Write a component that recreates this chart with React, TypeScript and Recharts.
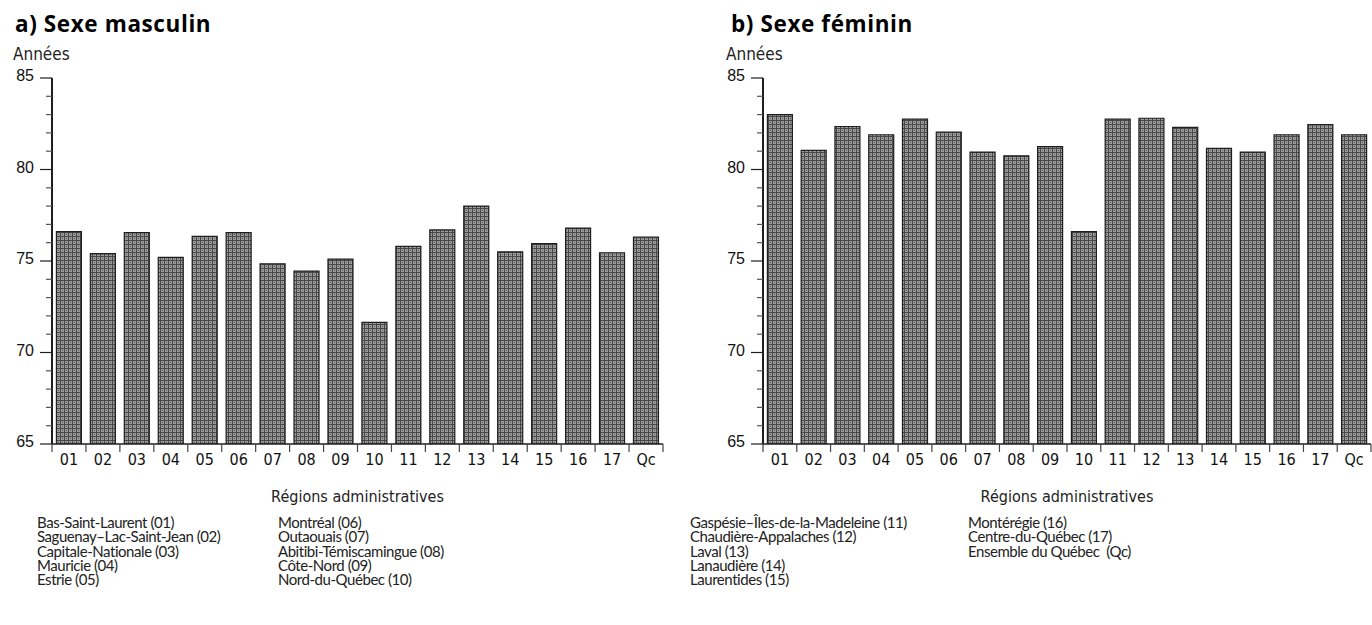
import React from 'react';
import { BarChart, Bar, XAxis, YAxis } from 'recharts';

// Espérance de vie à la naissance par région administrative
const codes = ['01', '02', '03', '04', '05', '06', '07', '08', '09', '10', '11', '12', '13', '14', '15', '16', '17', 'Qc'];
const hommes = [76.6, 75.4, 76.55, 75.2, 76.35, 76.55, 74.85, 74.45, 75.1, 71.65, 75.8, 76.7, 78.0, 75.5, 75.95, 76.8, 75.45, 76.3];
const femmes = [83.0, 81.05, 82.35, 81.9, 82.75, 82.05, 80.95, 80.75, 81.25, 76.6, 82.75, 82.8, 82.3, 81.15, 80.95, 81.9, 82.45, 81.9];
const yTicks = [65, 66, 67, 68, 69, 70, 71, 72, 73, 74, 75, 76, 77, 78, 79, 80, 81, 82, 83, 84, 85];

const legendCol1 = ['Bas-Saint-Laurent (01)', 'Saguenay–Lac-Saint-Jean (02)', 'Capitale-Nationale (03)', 'Mauricie (04)', 'Estrie (05)'];
const legendCol2 = ['Montréal (06)', 'Outaouais (07)', 'Abitibi-Témiscamingue (08)', 'Côte-Nord (09)', 'Nord-du-Québec (10)'];
const legendCol3 = ['Gaspésie–Îles-de-la-Madeleine (11)', 'Chaudière-Appalaches (12)', 'Laval (13)', 'Lanaudière (14)', 'Laurentides (15)'];
const legendCol4 = ['Montérégie (16)', 'Centre-du-Québec (17)', 'Ensemble du Québec  (Qc)'];

const masculin = codes.map((code, i) => ({ code, value: hommes[i] }));
const feminin = codes.map((code, i) => ({ code, value: femmes[i] }));

const INK = '#1e1e1e';
const NUM_FONT = '"Liberation Sans", Arial, sans-serif';
const COND_FONT = '"DejaVu Sans Condensed", "Liberation Sans", sans-serif';
const LIGHT_FONT = 'Lato, "Noto Sans", sans-serif';

const YTick = (props: any) => {
  const { x, y, payload } = props;
  const major = payload.value % 5 === 0;
  return (
    <g>
      <line x1={x - (major ? 12 : 6)} x2={x} y1={y} y2={y} stroke={major ? INK : '#555'} strokeWidth={1.2} />
      {major && (
        <text x={x - 18} y={y + 3} textAnchor="end" fontSize={16} fontFamily={NUM_FONT} fill="#111">
          {payload.value}
        </text>
      )}
    </g>
  );
};

const makeXTick = (band: number, count: number) => (props: any) => {
  const { x, y, payload, index } = props;
  const l = x - band / 2;
  const r = x + band / 2;
  return (
    <g>
      <line x1={l} x2={l} y1={y} y2={y + 8} stroke="#444" strokeWidth={1.2} />
      {index === count - 1 && <line x1={r} x2={r} y1={y} y2={y + 8} stroke="#444" strokeWidth={1.2} />}
      <text x={x} y={y + 21} textAnchor="middle" fontSize={16} fontFamily={COND_FONT} fill="#111">
        {payload.value}
      </text>
    </g>
  );
};

interface PanelProps {
  id: string;
  data: { code: string; value: number }[];
  left: number;
  width: number;
  axisW: number;
  rightM: number;
}

const Panel: React.FC<PanelProps> = ({ id, data, left, width, axisW, rightM }) => {
  const plotW = width - axisW - rightM;
  const band = plotW / data.length;
  return (
    <div style={{ position: 'absolute', left, top: 0 }}>
      <BarChart width={width} height={470} data={data} margin={{ top: 78, right: rightM, bottom: 0, left: 0 }} barCategoryGap="13%">
        <defs>
          <pattern id={id} width={4} height={4} patternUnits="userSpaceOnUse">
            <rect width={4} height={4} fill="#474747" />
            <rect x={1} y={1} width={3} height={3} fill="#9c9c9c" />
            <rect x={2} y={2} width={1} height={1} fill="#5c5c5c" />
          </pattern>
        </defs>
        <XAxis
          dataKey="code"
          interval={0}
          height={26}
          tickSize={0}
          tickMargin={0}
          tickLine={false}
          axisLine={{ stroke: INK, strokeWidth: 1.5 }}
          tick={makeXTick(band, data.length)}
        />
        <XAxis xAxisId="top" dataKey="code" orientation="top" height={0} tick={false} tickLine={false} axisLine={{ stroke: INK, strokeWidth: 1.8 }} />
        <YAxis
          domain={[65, 85]}
          ticks={yTicks}
          interval={0}
          width={axisW}
          tickSize={0}
          tickMargin={0}
          tickLine={false}
          allowDataOverflow
          axisLine={{ stroke: INK, strokeWidth: 2 }}
          tick={<YTick />}
        />
        <YAxis yAxisId="r" orientation="right" domain={[65, 85]} width={0} tick={false} tickLine={false} axisLine={{ stroke: '#333', strokeWidth: 1.2 }} />
        <Bar dataKey="value" fill={`url(#${id})`} stroke={INK} strokeWidth={1.2} isAnimationActive={false} />
      </BarChart>
    </div>
  );
};

const textStyle: React.CSSProperties = { position: 'absolute', fontFamily: COND_FONT, color: '#222', whiteSpace: 'pre' };
const titleStyle: React.CSSProperties = {
  ...textStyle,
  top: 10,
  fontFamily: '"Open Sans", sans-serif',
  fontWeight: 700,
  fontSize: 22.5,
  lineHeight: '28px',
  letterSpacing: 0.6,
  color: '#000',
};

const LegendCol: React.FC<{ items: string[]; left: number }> = ({ items, left }) => (
  <div style={{ ...textStyle, fontFamily: LIGHT_FONT, left, top: 515, fontSize: 15, lineHeight: '14.25px', letterSpacing: -0.45 }}>
    {items.map(t => (
      <div key={t}>{t}</div>
    ))}
  </div>
);

const App: React.FC = () => (
  <div style={{ position: 'absolute', left: 0, top: 0, width: 1372, height: 625, background: '#fff', overflow: 'hidden' }}>
    <Panel id="motifA" data={masculin} left={0} width={680} axisW={52} rightM={17} />
    <Panel id="motifB" data={feminin} left={700} width={672} axisW={63} rightM={1} />

    <div style={{ ...titleStyle, left: 15 }}>a) Sexe masculin</div>
    <div style={{ ...titleStyle, left: 731 }}>b) Sexe féminin</div>
    <div style={{ ...textStyle, left: 13, top: 45, fontSize: 17, lineHeight: '18px' }}>Années</div>
    <div style={{ ...textStyle, left: 726, top: 45, fontSize: 17, lineHeight: '18px' }}>Années</div>

    <div style={{ ...textStyle, left: 52, width: 611, top: 488, textAlign: 'center', fontSize: 16, lineHeight: '18px' }}>Régions administratives</div>
    <div style={{ ...textStyle, left: 763, width: 608, top: 488, textAlign: 'center', fontSize: 16, lineHeight: '18px' }}>Régions administratives</div>

    <LegendCol items={legendCol1} left={37} />
    <LegendCol items={legendCol2} left={278} />
    <LegendCol items={legendCol3} left={690} />
    <LegendCol items={legendCol4} left={968} />
  </div>
);

export default App;
